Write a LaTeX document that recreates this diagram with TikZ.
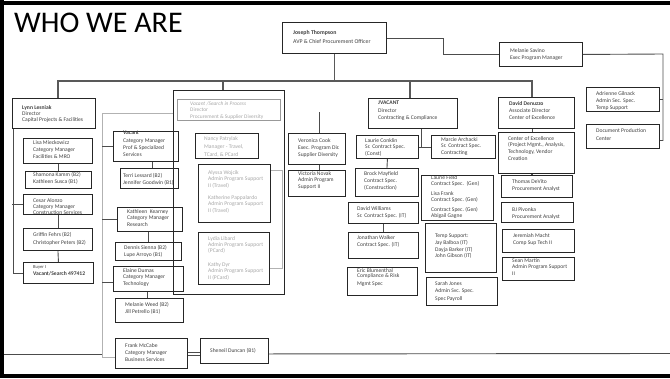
\documentclass[tikz,border=0pt]{standalone}
\usepackage{fontspec}
\setmainfont{Carlito}
\tikzset{
 box/.style={draw=black!85, line width=0.9pt, inner sep=0pt},
 gbox/.style={box, draw=black!40},
 txt/.style={inner sep=0pt, align=left, text=black!75, font=\fontsize{5.6}{7}\selectfont},
 gtxt/.style={txt, text=black!35},
 conn/.style={draw=black!70, line width=0.9pt},
 thickconn/.style={draw=black!70, line width=1.8pt},
 bus/.style={draw=black!65, line width=1.1pt},
 gline/.style={draw=black!30, line width=0.9pt},
 frameline/.style={draw=black, line width=4pt},
}
\newcommand\bx[9]{%
  \node[box,minimum width=#4pt,minimum height=#5pt,anchor=north west] (#1) at (#2,#3) {};
  \node[txt,#9,anchor=north west] (#1t) at (#6,{#7-2}) {#8};}
\begin{document}
\begin{tikzpicture}[x=1pt,y=-1pt]
\useasboundingbox (0,0) rectangle (670,378);
% frame
\draw[frameline] (0,3) -- (670,3);
\draw[frameline] (2,0) -- (2,378);
\draw[frameline] (0,376) -- (670,376);
% title
\node[anchor=base west, inner sep=0pt, font=\fontsize{30}{32}\selectfont] (title) at (14,32) {WHO WE ARE};
% top
\bx{joseph}{282}{22}{104}{31}{293}{32}{\textbf{Joseph Thompson}\\AVP \& Chief Procurement Officer}{font=\fontsize{5.8}{9.5}\selectfont}
\bx{melanie}{499}{42}{83}{24}{510}{50}{Melanie Savino\\Exec Program Manager}{}
\bx{adrienne}{586}{87}{73}{24}{596}{93}{Adrienne Gilnack\\Admin Sec. Spec.\\Temp Support}{}
\bx{doc}{586}{124}{73}{24}{596}{130}{Document Production\\Center}{font=\fontsize{5.6}{8}\selectfont}
% directors
\bx{lynn}{12}{98}{83}{30}{22}{107}{\textbf{Lynn Lesniak}\\Director\\Capital Projects \& Facilities}{font=\fontsize{5.6}{6.3}\selectfont}
\node[box,minimum width=111pt,minimum height=204pt,anchor=north west] (vdir) at (173,90) {};
\node[gbox,minimum width=103pt,minimum height=21pt,anchor=north west] (vdirin) at (177,99) {};
\node[gtxt,anchor=north west,font=\fontsize{5.4}{6.5}\selectfont] (vdirint) at (190,101.5) {\textit{Vacant /Search in Process}\\Director\\Procurement \& Supplier Diversity};
\bx{jv}{368}{98}{89}{30}{378}{103}{\textbf{JVACANT}\\Director\\Contracting \& Compliance}{font=\fontsize{5.6}{7.5}\selectfont}
\bx{david}{498}{97}{76}{31}{509}{103}{\textbf{David Denuzzo}\\Associate Director\\Center of Excellence}{}
% procurement column
\bx{nancy}{195}{133}{63}{25}{204}{138}{Nancy Patrylak\\Manager - Travel,\\TCard, \& PCard}{gtxt,font=\fontsize{5.6}{8}\selectfont}
\bx{alyssa}{198}{164}{72}{58}{208}{172}{Alyssa Wojcik\\Admin Program Support\\II (Travel)\\[5pt]Katherine Pappalardo\\Admin Program Support\\II (Travel)}{gtxt,font=\fontsize{5.6}{6.7}\selectfont}
\bx{lydia}{198}{232}{71}{52}{208}{238}{Lydia Libard\\Admin Program Support\\(PCard)\\[7pt]Kathy Dyr\\Admin Program Support\\II (PCard)}{gtxt,font=\fontsize{5.6}{6.4}\selectfont}
\bx{veronica}{288}{133}{57}{31}{298}{140}{Veronica Cook\\Exec. Program Dir.\\Supplier Diversity}{}
\bx{victoria}{288}{170}{57}{26}{298}{173}{Victoria Novak\\Admin Program\\Support II}{font=\fontsize{5.6}{6.5}\selectfont}
% contracting column
\bx{laurie}{356}{135}{62}{23}{365}{140}{Laurie Conklin\\Sr. Contract Spec.\\(Const)}{font=\fontsize{5.6}{6.5}\selectfont}
\bx{marcie}{431}{135}{64}{23}{441}{139}{Marcie Archacki\\Sr. Contract Spec.\\Contracting}{font=\fontsize{5.6}{6.8}\selectfont}
\bx{brock}{355}{168}{63}{28}{364}{173}{Brock Mayfield\\Contract Spec.\\(Construction)}{}
\bx{lfield}{421}{175}{72}{45}{431}{177}{Laurie Field\\Contract Spec.\ \ (Gen)\\[3pt]Lisa Frank\\Contract Spec.\ (Gen)\\[3pt]Contract Spec.\ (Gen)\\Abigail Gagne}{font=\fontsize{5.6}{6.5}\selectfont}
\bx{dwill}{348}{202}{70}{21}{357}{208}{David Williams\\Sr. Contract Spec. (IT)}{}
\bx{jwalker}{348}{232}{70}{26}{357}{237}{Jonathan Walker\\Contract Spec. (IT)}{}
\bx{temp}{425}{223}{71}{49}{435}{236}{Temp Support:\\Jay Balboa (IT)\\Dayja Barker (IT)\\John Gibson (IT)}{font=\fontsize{5.6}{6.7}\selectfont}
\bx{eric}{347}{267}{70}{28}{357}{270}{Eric Blumenthal\\Compliance \& Risk\\[2.5pt]Mgmt Spec}{font=\fontsize{5.6}{5.5}\selectfont}
\bx{sarah}{426}{277}{71}{28}{435}{283}{Sarah Jones\\Admin Svc. Spec.\\Spec Payroll}{font=\fontsize{5.6}{7.5}\selectfont}
% excellence column
\bx{coe}{498}{132}{76}{41}{508}{138}{Center of Excellence\\(Project Mgmt., Analysis,\\Technology, Vendor\\Creation}{font=\fontsize{5.6}{6.8}\selectfont}
\bx{thomas}{501}{175}{71}{22}{512}{181}{Thomas DeVito\\Procurement Analyst}{}
\bx{bj}{501}{202}{72}{20}{512}{209}{BJ Pivonka\\Procurement Analyst}{}
\bx{jeremiah}{502}{229}{72}{23}{513}{235}{Jeremiah Macht\\Comp Sup Tech II}{}
\bx{sean}{502}{257}{72}{23}{512}{260}{Sean Martin\\Admin Program Support\\II}{font=\fontsize{5.6}{6.5}\selectfont}
% capital column
\bx{lisa}{23}{138}{69}{25}{33}{142}{Lisa Mieckowicz\\Category Manager\\Facilities \& MRO}{}
\bx{shamona}{25}{171}{66}{17}{33}{174}{Shamona Kamm (B2)\\Kathleen Susca (B1)}{}
\bx{cesar}{23}{194}{69}{20}{33}{200}{Cesar Alonzo\\Category Manager\\Construction Services}{font=\fontsize{5.6}{6}\selectfont}
\bx{griffin}{23}{228}{69}{22}{33}{234}{Griffin Fehrs (B2)\\Christopher Peters (B2)}{font=\fontsize{5.6}{8}\selectfont}
\bx{buyer}{23}{262}{70}{21}{33}{267}{{\fontsize{4.6}{7}\selectfont Buyer I}\\\textbf{Vacant/Search 497412}}{}
% category column
\bx{vcat}{113}{131}{65}{30}{123}{133}{\textbf{Vacant}\\Category Manager\\Prof \& Specialized\\Services}{font=\fontsize{5.6}{7.3}\selectfont}
\bx{terri}{120}{168}{58}{20}{123}{175}{Terri Lessard (B2)\\Jennifer Goodwin (B1)}{}
\bx{kathleen}{117}{207}{65}{24}{127}{211}{Kathleen\ \ Kearney\\Category Manager\\Research}{font=\fontsize{5.6}{6.5}\selectfont}
\bx{dennis}{115}{242}{66}{18}{124}{247}{Dennis Sienna (B2)\\Lupe Arroyo (B1)}{}
\bx{elaine}{113}{266}{70}{25}{123}{270}{Elaine Dumas\\Category Manager\\Technology}{font=\fontsize{5.6}{6.5}\selectfont}
\bx{mweed}{115}{298}{68}{24}{125}{304}{Melanie Weed (B2)\\Jill Petrello (B1)}{}
\bx{frank}{115}{338}{72}{30}{125}{345}{Frank McCabe\\Category Manager\\Business Services}{}
\bx{sheneil}{200}{338}{68}{25}{210}{350}{Sheneil Duncan (B1)}{}
% connectors: top
\coordinate (busL) at (58,81);
\coordinate (busR) at (532,81);
\draw[bus] (joseph.south) -- (joseph.south |- busL);
\draw[bus] (busL |- lynn.north) -- (busL) -- (busR) -- (busR |- david.north);
\draw[bus] ([xshift=50pt]vdir.north west) -- ([xshift=50pt]vdir.north west |- busL);
\draw[bus] ([xshift=42pt]jv.north west) -- ([xshift=42pt]jv.north west |- busL);
\draw[conn] (joseph.east) -- ++(57,0) |- (melanie.west);
\coordinate (rt) at (663,54);
\draw[conn] (melanie.east) -- (rt) |- ([yshift=-4pt]doc.east);
\draw[conn] (adrienne.east) -- (adrienne.east -| rt);
% procurement
\coordinate (vtop) at (319,112);
\draw[conn] (vtop) -- (vtop |- veronica.north);
\draw[conn] (veronica.south -| vtop) -- (victoria.north -| vtop);
\draw[gline] ([yshift=-6pt]alyssa.north east) -- ++(12,0) |- ([yshift=-10pt]lydia.east);
% contracting
\draw[conn] ([xshift=53pt]jv.south west) -- ([xshift=53pt]jv.south west |- laurie.east);
\draw[conn] (laurie.east) -- (marcie.west);
\draw[conn] (laurie.south) -- (brock.north);
\draw[conn] (dwill.south) -- (jwalker.north);
% excellence
\draw[conn] (busR |- david.south) -- (busR |- coe.north);
\draw[thickconn] (busR |- coe.south) -- (busR |- thomas.north);
% capital
\draw[conn] ([xshift=1pt]lynn.south west) |- (buyer.west);
\draw[conn] (cesar.west) -- (cesar.west -| lynn.south west);
\draw[conn] (lisa.south) -- (lisa.south |- shamona.north);
\draw[conn] (cesar.south) -- (griffin.north);
\draw[conn] (griffin.south) -- (buyer.north);
% category
\coordinate (g1) at (102,113);
\draw[gline] (vdir.west |- g1) -- (g1) |- ([yshift=-4pt]frank.west);
\draw[conn] (vcat.west) -- (vcat.west -| g1);
\draw[conn] (kathleen.west) -- (kathleen.west -| g1);
\draw[conn] ([yshift=-3pt]elaine.west) -- ([yshift=-3pt]elaine.west -| g1);
\draw[conn] ([xshift=6pt]vcat.south) -- ([xshift=6pt]vcat.south |- terri.north);
\draw[conn] ([xshift=-2pt]kathleen.south) -- ([xshift=-2pt]kathleen.south |- dennis.north);
\draw[conn] ([xshift=-1pt]elaine.south) -- ([xshift=-1pt]elaine.south |- mweed.north);
\draw[conn] ([yshift=1.5pt]frank.east) -- ([yshift=1.5pt]frank.east -| sheneil.west);
\draw[conn] ([yshift=-1.5pt]frank.east) -- ([yshift=-1.5pt]frank.east -| sheneil.west);
% bottom rule
\coordinate (bl) at (4,354);
\coordinate (br) at (670,353.5);
\draw[conn] (bl) -- (bl -| g1);
\draw[conn] ([yshift=-3pt]sheneil.east) -- (br);
\end{tikzpicture}
\end{document}
